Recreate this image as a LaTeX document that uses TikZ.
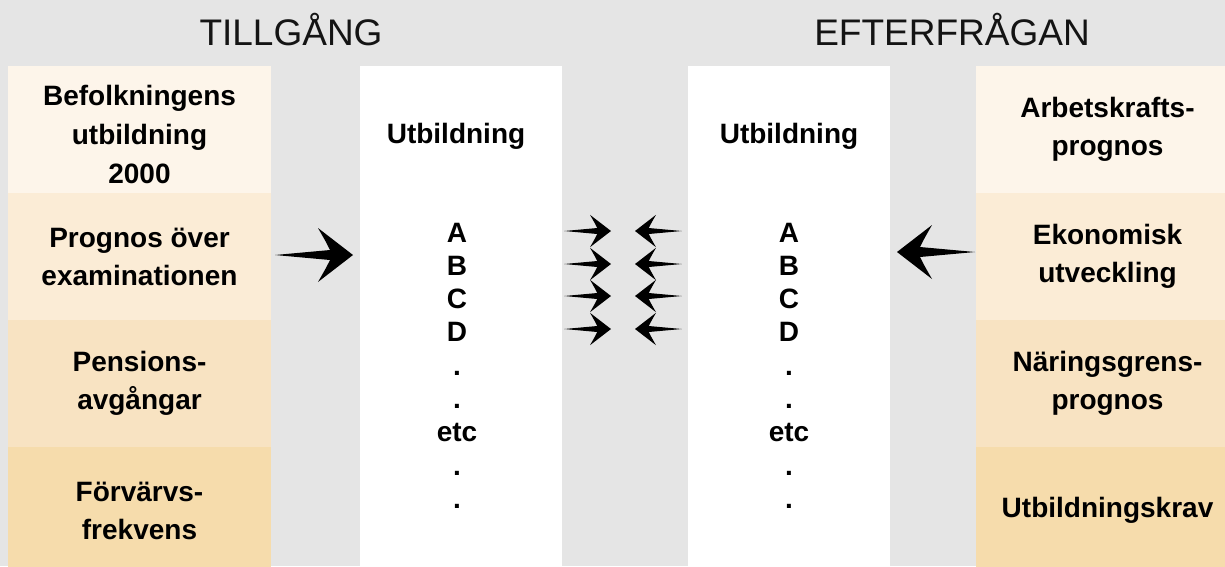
\documentclass[tikz,border=0pt]{standalone}
\usepackage{fontspec}
\setmainfont{Liberation Sans}
\definecolor{bg}{RGB}{229,229,229}
\definecolor{rowA}{RGB}{253,245,234}
\definecolor{rowB}{RGB}{251,236,214}
\definecolor{rowC}{RGB}{248,227,194}
\definecolor{rowD}{RGB}{246,220,172}
\newcommand{\bodyfnt}{\fontsize{28}{38}\selectfont\bfseries}
\newcommand{\bodyfntwide}{\fontsize{28}{39}\selectfont\bfseries}
\newcommand{\titlefnt}{\fontsize{37}{40}\selectfont}
\tikzset{
  cellbox/.style={minimum width=263pt, minimum height=127pt, inner sep=0pt, outer sep=0pt, align=center, font=\bodyfnt},
  celltext/.style={inner sep=0pt, align=center, font=\bodyfntwide},
  whitebox/.style={fill=white, minimum width=202pt, minimum height=500pt, inner sep=0pt, outer sep=0pt},
  listitem/.style={anchor=base, inner sep=0pt, font=\bodyfnt},
  titletext/.style={anchor=base, inner sep=0pt, font=\titlefnt, text=black!92},
  fatarrow/.pic={\fill[black] (-78,0) -- (-23,-5) .. controls (-27,-13) .. (-35,-27) -- (0,0) -- (-35,27) .. controls (-27,13) .. (-23,5) -- cycle;}
}
\begin{document}
\begin{tikzpicture}[x=1pt,y=-1pt]
\path[use as bounding box] (0,0) rectangle (1225,566);
\clip (0,0) rectangle (1225,566);
\fill[bg] (0,0) rectangle (1225,566);

% titles
\node[titletext] (tillgang) at (291,45) {TILLGÅNG};
\node[titletext] (efterfragan) at (952,45) {EFTERFRÅGAN};

% left column
\node[cellbox, fill=rowA] (l1) at (139.5,129.5) {};
\node[celltext] (l1txt) at (139.5,134.5) {Befolkningens\\utbildning\\2000};
\node[cellbox, fill=rowB] (l2) at (139.5,256.5) {Prognos över\\examinationen};
\node[cellbox, fill=rowC] (l3) at (139.5,383.5) {Pensions-\\avgångar};
\node[cellbox, fill=rowD] (l4) at (139.5,510.5) {Förvärvs-\\frekvens};

% right column
\node[cellbox, fill=rowA] (r1) at (1107.5,129.5) {Arbetskrafts-\\prognos};
\node[cellbox, fill=rowB] (r2) at (1107.5,256.5) {Ekonomisk\\utveckling};
\node[cellbox, fill=rowC] (r3) at (1107.5,383.5) {Näringsgrens-\\prognos};
\node[cellbox, fill=rowD] (r4) at (1107.5,510.5) {Utbildningskrav};

% white panels
\node[whitebox] (wl) at (461,316) {};
\node[whitebox] (wr) at (789,316) {};

\node[listitem] (hl) at (456,143) {Utbildning};
\node[listitem] (hr) at (789,143) {Utbildning};

\foreach \t [count=\i] in {A,B,C,D,.,.,etc,.,.}{
  \node[listitem] (ll\i) at (457,{242+33.3*(\i-1)}) {\t};
  \node[listitem] (lr\i) at (789,{242+33.3*(\i-1)}) {\t};
}

% big arrows
\coordinate (bigtipL) at (353,255);
\coordinate (bigtipR) at (897,252);
\pic at (bigtipL) {fatarrow};
\pic[xscale=-1] at (bigtipR) {fatarrow};

% small arrows between the panels
\foreach \yy [count=\j] in {231,264,296,329}{
  \coordinate (stipR\j) at (611,\yy);
  \coordinate (stipL\j) at (635,\yy);
  \pic[scale=0.6] at (stipR\j) {fatarrow};
  \pic[xscale=-0.6, yscale=0.6] at (stipL\j) {fatarrow};
}
\end{tikzpicture}
\end{document}
